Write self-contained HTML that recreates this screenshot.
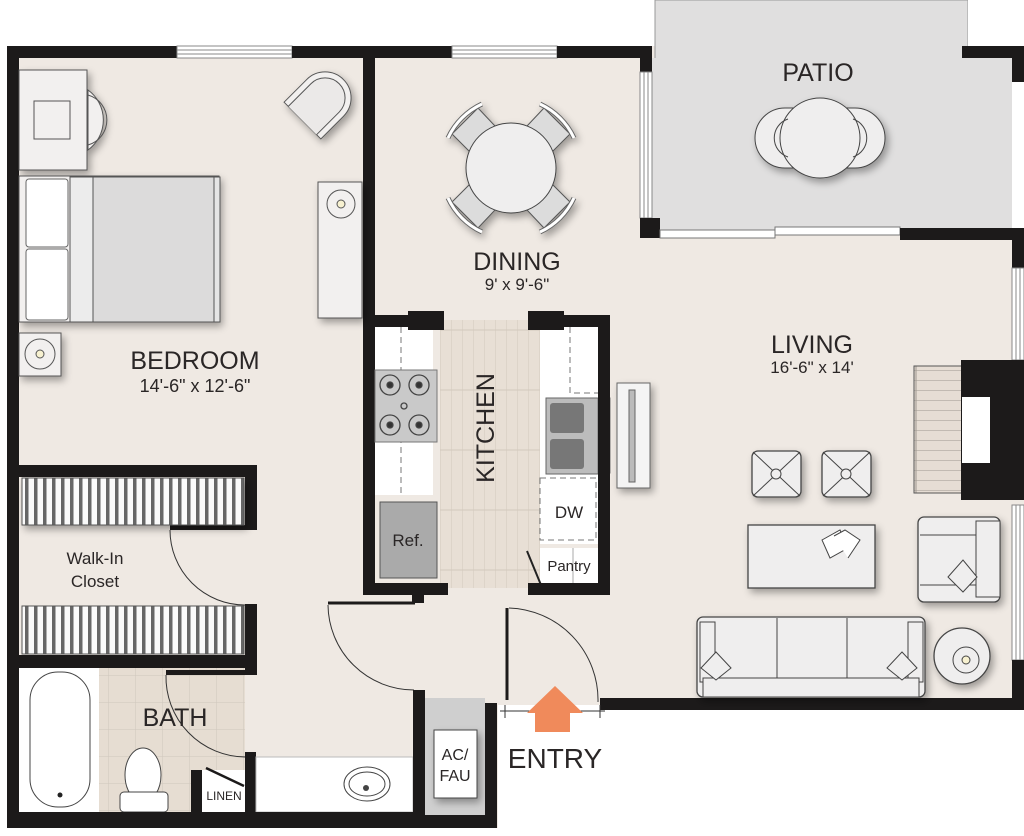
<!DOCTYPE html>
<html><head><meta charset="utf-8"><style>
html,body{margin:0;padding:0;background:#fff;}
svg{display:block}
text{font-family:"Liberation Sans",sans-serif;fill:#2a2626}
</style></head><body>
<svg width="1024" height="836" viewBox="0 0 1024 836" xmlns="http://www.w3.org/2000/svg">
<defs>
<filter id="sh" x="-30%" y="-30%" width="160%" height="160%"><feGaussianBlur in="SourceAlpha" stdDeviation="4"/><feOffset dx="3" dy="4"/><feComponentTransfer><feFuncA type="linear" slope="0.35"/></feComponentTransfer><feMerge><feMergeNode/><feMergeNode in="SourceGraphic"/></feMerge></filter>
<pattern id="hang" width="9" height="50" patternUnits="userSpaceOnUse"><rect width="9" height="50" fill="#666"/><rect x="1.5" y="0" width="5.5" height="50" fill="#fafafa"/></pattern>
<pattern id="tile" width="27" height="27" patternUnits="userSpaceOnUse"><rect width="27" height="27" fill="#e6ddd2"/><path d="M0 0H27M0 0V27" stroke="#cfc6bc" stroke-width="1"/></pattern>
<pattern id="wood" width="11" height="60" patternUnits="userSpaceOnUse"><rect width="11" height="60" fill="#e8dfd5"/><path d="M0 0V60M0 30H11" stroke="#d2c8bd" stroke-width="1"/></pattern>
<pattern id="hearth" width="47" height="10" patternUnits="userSpaceOnUse"><rect width="47" height="10" fill="#e6ddd4"/><path d="M0 0H47M23 0V10" stroke="#9e9890" stroke-width="1"/></pattern>
</defs>

<!-- floor -->
<rect x="7" y="46" width="1017" height="782" fill="#efe9e3"/>
<rect x="498" y="705" width="526" height="131" fill="#fff"/>
<rect x="600" y="710" width="424" height="126" fill="#fff"/>
<!-- patio -->
<rect x="655" y="0" width="313" height="232" fill="#e0dfdf" stroke="#999" stroke-width="1"/>
<rect x="652" y="58" width="360" height="170" fill="#e0dfdf"/>
<rect x="968" y="0" width="56" height="46" fill="#fff"/>

<!-- walls top -->
<rect x="7" y="46" width="170" height="12" fill="#1c1a1a"/>
<rect x="177" y="46" width="115" height="12" fill="#fff" stroke="#888" stroke-width="1"/>
<path d="M177 50H292M177 54H292" stroke="#888"/>
<rect x="292" y="46" width="160" height="12" fill="#1c1a1a"/>
<rect x="452" y="46" width="105" height="12" fill="#fff" stroke="#888" stroke-width="1"/>
<path d="M452 50H557M452 54H557" stroke="#888"/>
<rect x="557" y="46" width="94" height="12" fill="#1c1a1a"/>
<rect x="640" y="46" width="12" height="26" fill="#1c1a1a"/>
<rect x="640" y="72" width="12" height="146" fill="#fff" stroke="#888"/>
<path d="M644 72V218M648 72V218" stroke="#888"/>
<rect x="640" y="218" width="20" height="20" fill="#1c1a1a"/>
<rect x="660" y="230" width="115" height="8" fill="#fff" stroke="#777"/>
<rect x="775" y="227" width="125" height="8" fill="#fff" stroke="#777"/>
<rect x="900" y="228" width="124" height="12" fill="#1c1a1a"/>
<rect x="962" y="46" width="62" height="12" fill="#1c1a1a"/>
<rect x="1012" y="46" width="12" height="36" fill="#1c1a1a"/>
<rect x="1012" y="82" width="12" height="146" fill="#fff"/>
<rect x="1012" y="228" width="12" height="40" fill="#1c1a1a"/>
<rect x="1012" y="268" width="12" height="92" fill="#fff" stroke="#888"/>
<path d="M1016 268V360M1020 268V360" stroke="#888"/>
<rect x="1012" y="505" width="12" height="155" fill="#fff" stroke="#888"/>
<path d="M1016 505V660M1020 505V660" stroke="#888"/>
<rect x="1012" y="660" width="12" height="50" fill="#1c1a1a"/>
<!-- fireplace -->
<rect x="914" y="366" width="48" height="127" fill="url(#hearth)" stroke="#555"/>
<rect x="961" y="360" width="63" height="140" fill="#1c1a1a"/>
<rect x="962" y="397" width="28" height="66" fill="#fff"/>
<!-- left wall -->
<rect x="7" y="46" width="12" height="782" fill="#1c1a1a"/>
<!-- bedroom/dining divider -->
<rect x="363" y="58" width="12" height="537" fill="#1c1a1a"/>

<!-- kitchen -->
<rect x="440" y="320" width="100" height="268" fill="url(#wood)"/>
<rect x="375" y="327" width="58" height="168" fill="#fff"/>
<path d="M401 327V495" stroke="#777" stroke-dasharray="6,4"/>
<rect x="375" y="370" width="62" height="72" fill="#c9c9c9" stroke="#777"/>
<g stroke="#444" fill="none" stroke-width="1.3">
<circle cx="390" cy="385" r="10"/><circle cx="390" cy="385" r="3" fill="#333"/>
<circle cx="419" cy="385" r="10"/><circle cx="419" cy="385" r="3" fill="#333"/>
<circle cx="390" cy="425" r="10"/><circle cx="390" cy="425" r="3" fill="#333"/>
<circle cx="419" cy="425" r="10"/><circle cx="419" cy="425" r="3" fill="#333"/>
<circle cx="404" cy="406" r="3"/></g>
<rect x="380" y="502" width="57" height="76" fill="#aaa" stroke="#555"/>
<text x="408" y="546" font-size="17" text-anchor="middle">Ref.</text>
<rect x="540" y="327" width="58" height="160" fill="#fff"/>
<path d="M570 327V393H598" stroke="#777" fill="none" stroke-dasharray="6,4"/>
<rect x="546" y="398" width="52" height="76" fill="#bcbcbc" stroke="#666"/>
<rect x="550" y="403" width="34" height="30" rx="3" fill="#777"/>
<rect x="550" y="439" width="34" height="30" rx="3" fill="#777"/>
<rect x="598" y="398" width="12" height="75" fill="#fff" stroke="#777"/>
<rect x="540" y="478" width="58" height="66" fill="#fff"/>
<rect x="540" y="478" width="56" height="62" fill="none" stroke="#777" stroke-dasharray="6,4"/>
<text x="569" y="518" font-size="17" text-anchor="middle">DW</text>
<rect x="540" y="548" width="58" height="37" fill="#fff"/>
<path d="M573 548V583" stroke="#aaa"/>
<text x="569" y="571" font-size="15" text-anchor="middle">Pantry</text>
<path d="M527 551L541 585" stroke="#222" stroke-width="2"/>
<rect x="617" y="383" width="33" height="105" fill="#f4f4f4" stroke="#666" filter="url(#sh)"/>
<rect x="629" y="390" width="6" height="92" fill="#bbb" stroke="#666"/>
<rect x="363" y="315" width="81" height="12" fill="#1c1a1a"/>
<rect x="408" y="311" width="36" height="19" fill="#1c1a1a"/>
<rect x="528" y="315" width="82" height="12" fill="#1c1a1a"/>
<rect x="528" y="311" width="36" height="19" fill="#1c1a1a"/>
<rect x="598" y="315" width="12" height="280" fill="#1c1a1a"/>
<rect x="363" y="583" width="85" height="12" fill="#1c1a1a"/>
<rect x="528" y="583" width="82" height="12" fill="#1c1a1a"/>
<rect x="412" y="595" width="12" height="8" fill="#1c1a1a"/>
<text transform="translate(494 428) rotate(-90)" font-size="25" text-anchor="middle">KITCHEN</text>

<!-- hall door -->
<path d="M328 603H415" stroke="#1c1a1a" stroke-width="3"/>
<path d="M328 605A86 86 0 0 0 414 690" stroke="#333" fill="none"/>

<!-- closet -->
<rect x="7" y="465" width="250" height="12" fill="#1c1a1a"/>
<rect x="245" y="465" width="12" height="65" fill="#1c1a1a"/>
<rect x="170" y="525" width="80" height="5" fill="#1c1a1a"/>
<rect x="22" y="478" width="222" height="47" fill="url(#hang)" stroke="#555" filter="url(#sh)"/>
<rect x="22" y="606" width="222" height="48" fill="url(#hang)" stroke="#555"/>
<path d="M170 530A75 75 0 0 0 245 605" stroke="#333" fill="none"/>
<rect x="245" y="604" width="12" height="64" fill="#1c1a1a"/>
<rect x="7" y="655" width="250" height="13" fill="#1c1a1a"/>
<text x="95" y="564" font-size="17" text-anchor="middle">Walk-In</text>
<text x="95" y="587" font-size="17" text-anchor="middle">Closet</text>

<!-- bath -->
<rect x="99" y="668" width="146" height="147" fill="url(#tile)"/>
<rect x="19" y="668" width="80" height="147" fill="#fff"/>
<rect x="30" y="672" width="60" height="135" rx="28" fill="#fff" stroke="#444"/>
<circle cx="60" cy="795" r="2.5" fill="#222"/>
<rect x="166" y="670" width="79" height="5" fill="#1c1a1a"/>
<path d="M166 675A80 80 0 0 0 245 757" stroke="#333" fill="none"/>
<rect x="245" y="660" width="12" height="15" fill="#1c1a1a"/>
<ellipse cx="143" cy="775" rx="18" ry="27" fill="#fff" stroke="#444"/>
<rect x="120" y="792" width="48" height="20" rx="4" fill="#fff" stroke="#444"/>
<rect x="191" y="770" width="11" height="53" fill="#1c1a1a"/>
<rect x="202" y="770" width="43" height="42" fill="#fff"/>
<path d="M206 768L244 786" stroke="#1c1a1a" stroke-width="2.5"/>
<rect x="245" y="752" width="11" height="71" fill="#1c1a1a"/>
<text x="224" y="800" font-size="12" text-anchor="middle">LINEN</text>
<text x="175" y="726" font-size="25" text-anchor="middle">BATH</text>
<rect x="256" y="757" width="157" height="55" fill="#fff" stroke="#bbb"/>
<ellipse cx="367" cy="784" rx="23" ry="17" fill="#fff" stroke="#444"/>
<ellipse cx="367" cy="784" rx="18" ry="12" fill="none" stroke="#444"/>
<circle cx="366" cy="788" r="3" fill="#444"/>
<rect x="7" y="812" width="406" height="16" fill="#1c1a1a"/>
<!-- AC -->
<rect x="413" y="690" width="12" height="138" fill="#1c1a1a"/>
<rect x="425" y="698" width="60" height="117" fill="#cfcfcf"/>
<rect x="434" y="730" width="43" height="68" fill="#fff" stroke="#444" filter="url(#sh)"/>
<text x="455" y="760" font-size="16" text-anchor="middle">AC/</text>
<text x="455" y="781" font-size="16" text-anchor="middle">FAU</text>
<rect x="485" y="703" width="12" height="125" fill="#1c1a1a"/>
<rect x="413" y="815" width="84" height="13" fill="#1c1a1a"/>
<rect x="425" y="690" width="82" height="8" fill="#efe9e3"/>
<!-- entry -->
<path d="M507 608V700" stroke="#1c1a1a" stroke-width="3"/>
<path d="M509 608A92 92 0 0 1 598 702" stroke="#333" fill="none"/>
<rect x="600" y="698" width="424" height="12" fill="#1c1a1a"/>
<path d="M500 711H605M505 705V718M600 705V718" stroke="#333"/>
<polygon points="555,686 583,713 570,713 570,732 535,732 535,713 527,713" fill="#f08a5b"/>
<text x="555" y="768" font-size="28" text-anchor="middle">ENTRY</text>

<!-- bedroom furniture -->
<g filter="url(#sh)">
<rect x="19" y="70" width="68" height="100" fill="#f2f0ef" stroke="#555"/>
<path d="M88 90A37 37 0 0 1 88 150Z" fill="#f2f0ef" stroke="#555"/>
<g transform="translate(318 105) rotate(-45)">
<path d="M-32 -10H0A26 26 0 0 1 0 42H-32Z" transform="translate(10 -16)" fill="#f2f0ef" stroke="#555"/>
</g>
<rect x="19" y="176" width="200" height="146" fill="#f2f0ef" stroke="#555"/>
<rect x="318" y="182" width="44" height="136" fill="#f2f0ef" stroke="#555"/>
<rect x="19" y="333" width="42" height="43" fill="#f2f0ef" stroke="#555"/>
</g>
<g transform="translate(318 105) rotate(-45)">
<path d="M-22 -20H10A20 20 0 0 1 10 20H-22" transform="translate(0 0)" fill="#ebe9e8" stroke="#555"/>
</g>
<rect x="34" y="101" width="36" height="38" fill="#f2f0ef" stroke="#555"/>
<path d="M88 95A26 26 0 0 1 88 145" fill="none" stroke="#555"/>
<rect x="93" y="177" width="122" height="145" fill="#dcdbdb" stroke="#555"/>
<rect x="70" y="177" width="23" height="145" fill="#ececec" stroke="#555"/>
<rect x="214" y="177" width="6" height="145" fill="#e5e5e5" stroke="#555"/>
<rect x="26" y="179" width="42" height="68" rx="3" fill="#fff" stroke="#666"/>
<rect x="26" y="249" width="42" height="71" rx="3" fill="#fff" stroke="#666"/>
<g fill="none" stroke="#555">
<circle cx="341" cy="204" r="14"/><circle cx="341" cy="204" r="4" fill="#f7f1d0"/>
<circle cx="40" cy="354" r="15"/><circle cx="40" cy="354" r="4" fill="#f7f1d0"/>
</g>
<text x="195" y="369" font-size="25" text-anchor="middle">BEDROOM</text>
<text x="195" y="392" font-size="18" text-anchor="middle">14'-6" x 12'-6"</text>

<!-- dining -->
<g filter="url(#sh)">
<g fill="#dcdcdc" stroke="#555">
<path d="M452 134L478 108L495 126L470 152Z"/><path d="M570 134L544 108L527 126L552 152Z"/>
<path d="M452 202L478 228L495 210L470 184Z"/><path d="M570 202L544 228L527 210L552 184Z"/>
</g>
<g fill="none" stroke="#666" stroke-width="5">
<path d="M448 138A70 70 0 0 1 482 104"/><path d="M574 138A70 70 0 0 0 540 104"/>
<path d="M448 198A70 70 0 0 0 482 232"/><path d="M574 198A70 70 0 0 1 540 232"/>
</g>
<g fill="none" stroke="#fff" stroke-width="3">
<path d="M448 138A70 70 0 0 1 482 104"/><path d="M574 138A70 70 0 0 0 540 104"/>
<path d="M448 198A70 70 0 0 0 482 232"/><path d="M574 198A70 70 0 0 1 540 232"/>
</g>
<circle cx="511" cy="168" r="45" fill="#efeeee" stroke="#444"/>
</g>
<text x="517" y="270" font-size="25" text-anchor="middle">DINING</text>
<text x="517" y="290" font-size="17" text-anchor="middle">9' x 9'-6"</text>

<!-- patio -->
<g filter="url(#sh)">
<rect x="755" y="108" width="130" height="60" rx="30" fill="#efeeee" stroke="#444"/>
<circle cx="820" cy="138" r="40" fill="#efeeee" stroke="#444"/>
</g>
<path d="M788 119A20 20 0 0 0 788 157M853 119A20 20 0 0 1 853 157" fill="none" stroke="#444"/>
<text x="818" y="81" font-size="25" text-anchor="middle">PATIO</text>

<!-- living -->
<text x="812" y="353" font-size="25" text-anchor="middle">LIVING</text>
<text x="812" y="373" font-size="17" text-anchor="middle">16'-6" x 14'</text>
<g filter="url(#sh)" fill="#efeeee" stroke="#444" stroke-width="1.3">
<rect x="752" y="451" width="49" height="46" rx="6"/>
<rect x="822" y="451" width="49" height="46" rx="6"/>
<rect x="748" y="525" width="127" height="63"/>
<rect x="918" y="517" width="82" height="85" rx="6"/>
<rect x="697" y="617" width="228" height="80" rx="6"/>
<circle cx="962" cy="656" r="28"/>
</g>
<g stroke="#444" fill="none">
<path d="M753 452L800 496M800 452L753 496M823 452L870 496M870 452L823 496"/>
<circle cx="776" cy="474" r="5" fill="#efeeee"/><circle cx="846" cy="474" r="5" fill="#efeeee"/>
<path d="M822 540L840 530L848 548L830 558Z" fill="#fff"/>
<path d="M834 536L845 530L860 540L848 558" fill="#fff"/>
<path d="M920 535H976M920 585H976"/>
<rect x="976" y="521" width="24" height="76" fill="#efeeee"/>
<path d="M948 577L963 560L977 577L963 592Z" fill="#efeeee"/>
<path d="M777 618V678M847 618V678M703 678H919"/>
<rect x="700" y="622" width="15" height="60" fill="#efeeee"/>
<rect x="908" y="622" width="15" height="60" fill="#efeeee"/>
<rect x="703" y="678" width="216" height="19" fill="#efeeee"/>
<path d="M701 668L716 652L731 668L716 680Z" fill="#efeeee"/>
<path d="M887 668L902 652L917 668L902 680Z" fill="#efeeee"/>
<circle cx="966" cy="660" r="13"/><circle cx="966" cy="660" r="4" fill="#f7f1d0"/>
</g>
</svg>
</body></html>
